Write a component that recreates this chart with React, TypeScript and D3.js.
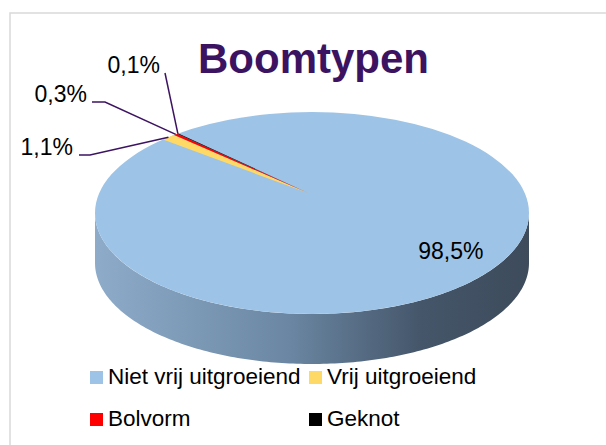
import React from "react";
import * as d3 from "d3";

const categories = ["Niet vrij uitgroeiend", "Vrij uitgroeiend", "Bolvorm", "Geknot"];
const values = [98.5, 1.1, 0.3, 0.1];
const labels = ["98,5%", "1,1%", "0,3%", "0,1%"];
const colors = ["#9dc3e6", "#ffd966", "#ff0000", "#000000"];

const W = 606;
const H = 445;
const FONT = "'Liberation Sans', Arial, sans-serif";
const PURPLE = "#3c1361";

const App = () => {
  // ellipse geometry of the top face
  const cx = 312;
  const cy = 213;
  const rx = 217;
  const ry = 101;
  const thick = 50;
  const apex: [number, number] = [308, 193];

  const rim = (a: number, dy = 0): [number, number] => [
    cx + rx * Math.sin(a),
    cy - ry * Math.cos(a) + dy,
  ];

  const start = (-38 * Math.PI) / 180;
  const pie = d3
    .pie<number>()
    .sort(null)
    .startAngle(start)
    .endAngle(start + 2 * Math.PI);
  const arcs = pie(values);

  const color = d3.scaleOrdinal<string, string>().domain(categories).range(colors);
  const line = d3.line();

  const slicePath = (a0: number, a1: number) => {
    const n = Math.max(2, Math.ceil(((a1 - a0) * 180) / Math.PI));
    const pts = d3.range(n + 1).map((i) => rim(a0 + ((a1 - a0) * i) / n));
    return line([apex, ...pts]) + "Z";
  };

  // front side of the disc
  const sideTop = d3.range(0, 181).map((i) => rim(Math.PI / 2 + (i * Math.PI) / 180));
  const sideBottom = sideTop.map(([x, y]) => [x, y + thick] as [number, number]).reverse();
  const sidePath = line([...sideTop, ...sideBottom]) + "Z";

  // label layout for the small slices: [elbow, line end, text anchor]
  const labelLayout: Record<string, { pts: [number, number][]; tx: number; ty: number }> = {
    "Vrij uitgroeiend": { pts: [[90, 155], [79, 155]], tx: 73, ty: 155 },
    Bolvorm: { pts: [[105, 102], [92, 102]], tx: 87, ty: 102 },
    Geknot: { pts: [[165, 73]], tx: 160, ty: 73 },
  };

  const legendCols = [90, 309];
  const legendRows = [371, 413];

  return (
    <svg
      width={W}
      height={H}
      style={{ position: "fixed", left: 0, top: 0, background: "#fff" }}
      fontFamily={FONT}
    >
      <defs>
        <linearGradient id="side" x1={cx - rx} x2={cx + rx} y1={0} y2={0} gradientUnits="userSpaceOnUse">
          <stop offset="0" stopColor="#8eacca" />
          <stop offset="0.45" stopColor="#6a86a2" />
          <stop offset="0.75" stopColor="#45566a" />
          <stop offset="1" stopColor="#3d4b5b" />
        </linearGradient>
      </defs>

      <rect x={10} y={13} width={W} height={H} fill="none" stroke="#d9d9d9" strokeWidth={1.5} />

      <text x={198} y={73} fontSize={42} fontWeight="bold" fill={PURPLE}>
        Boomtypen
      </text>

      <path d={sidePath} fill="url(#side)" />
      <ellipse cx={cx} cy={cy} rx={rx} ry={ry} fill={colors[0]} />

      {arcs.slice(1).map((d, i) => (
        <path
          key={categories[i + 1]}
          d={slicePath(d.startAngle, d.endAngle)}
          fill={color(categories[i + 1])}
        />
      ))}

      {arcs.slice(1).map((d, i) => {
        const cat = categories[i + 1];
        const lay = labelLayout[cat];
        const p = rim((d.startAngle + d.endAngle) / 2);
        return (
          <g key={cat}>
            <path d={line([p, ...lay.pts]) || ""} fill="none" stroke={PURPLE} strokeWidth={1.5} />
            <text x={lay.tx} y={lay.ty} fontSize={23} textAnchor="end" fill="#000">
              {labels[i + 1]}
            </text>
          </g>
        );
      })}

      <text x={cx + 0.64 * rx} y={cy + 0.46 * ry} fontSize={23} textAnchor="middle" fill="#000">
        {labels[0]}
      </text>

      {categories.map((c, i) => {
        const x = legendCols[i % 2];
        const y = legendRows[Math.floor(i / 2)];
        return (
          <g key={c}>
            <rect x={x} y={y} width={13} height={13} fill={color(c)} />
            <text x={x + 18} y={y + 13} fontSize={22.5} fill="#000">
              {c}
            </text>
          </g>
        );
      })}
    </svg>
  );
};

export default App;
